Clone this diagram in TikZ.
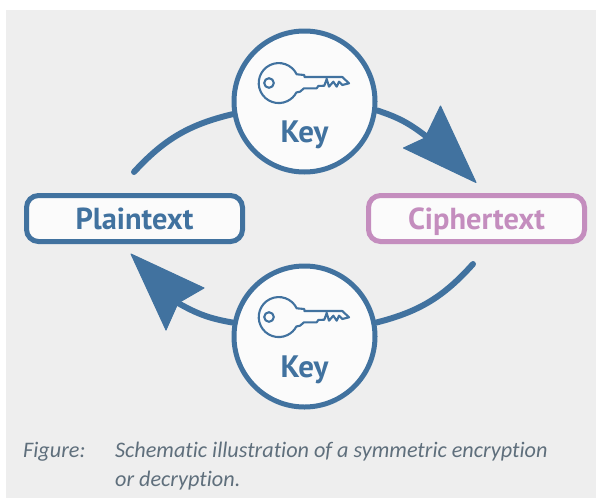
\documentclass[tikz,border=0pt]{standalone}
\usepackage{fontspec}
\setmainfont{PT Sans}
\newfontfamily\capfont[Ligatures=NoCommon]{Carlito}
\definecolor{bluec}{HTML}{41729F}
\definecolor{pinkc}{HTML}{C48DBE}
\definecolor{bgc}{HTML}{EEEEEE}
\definecolor{fillc}{HTML}{FBFBFB}
\definecolor{capc}{HTML}{5F6F7C}
\pgfdeclarelayer{under}
\pgfsetlayers{under,main}
\tikzset{
 conn/.style={draw=bluec,line width=6pt,line cap=round},
 head/.style={fill=bluec,draw=bluec,line width=1pt,line join=round},
 keycircle/.style={circle,draw=bluec,fill=fillc,line width=5pt,minimum size=141pt,inner sep=0pt},
 termbox/.style={rounded corners=12pt,fill=fillc,line width=5pt,minimum width=216pt,minimum height=46pt,inner sep=0pt,text depth=0pt,font=\bfseries\fontsize{30.4}{30}\selectfont},
 keylabel/.style={font=\bfseries\fontsize{31}{31}\selectfont,text=bluec,inner sep=0pt,anchor=base},
 caption/.style={font=\capfont\itshape\fontsize{22.2}{22}\selectfont,text=capc,anchor=base west,inner sep=0pt},
 keyline/.style={draw=bluec,line width=2.1pt,line join=round}
}
\newcommand{\keyglyph}[2]{%
 \begin{scope}[shift={(#1,#2)}]
  \draw[keyline] (17.7,-8.7) arc[start angle=-26,end angle=-332,radius=20]
   -- (21,8.7) -- (25,5.3) -- (37.7,5.3) -- (39.3,3) -- (45.3,2.7) -- (47.7,-4) -- (50,3.7) -- (54.3,-1.3) -- (57.7,3.7) -- (60,-1.3) -- (63.3,2) -- (70,0.3) -- (63.3,-6) -- (25.3,-6) -- (25.3,-8) -- cycle;
  \draw[keyline] (-10,0) circle[radius=4.8];
 \end{scope}}
\begin{document}
\begin{tikzpicture}[x=1pt,y=-1pt]
\useasboundingbox (0,0) rectangle (596,498);
\node[termbox,draw=bluec,text=bluec] (plain) at (134.5,218.5) {Plaintext};
\node[termbox,draw=pinkc,text=pinkc] (cipher) at (476.5,218.5) {Ciphertext};
\coordinate (a1) at (134,172);
\coordinate (a2) at (473,264);
\coordinate (h1) at (427,137);
\coordinate (h2) at (178,303);
\node[keycircle] (ktop) at (304.5,101.5) {};
\node[keycircle] (kbot) at (304.5,336.5) {};
\begin{pgfonlayer}{under}
\fill[bgc] (6,10) rectangle (596,498);
\draw[conn] (a1) to[bend left=17] (ktop.190);
\draw[conn] (ktop.-7) to[bend left=10] (h1);
\draw[conn] (a2) to[bend left=17] (kbot.11);
\draw[conn] (kbot.169) to[bend left=10] (h2);
\path[head] (476,182.5) -- (440.5,106) -- (425,138) -- (403.5,148) -- cycle;
\path[head] (131,254) -- (204,288) -- (178,303) -- (166,330) -- cycle;
\end{pgfonlayer}
\keyglyph{279}{83}
\keyglyph{279}{317}
\node[keylabel] (l1) at (304.5,142) {Key};
\node[keylabel] (l2) at (304.5,377) {Key};
\node[caption] (c1) at (23,457) {Figure:};
\node[caption] (c2) at (115,457) {Schematic illustration of a symmetric encryption};
\node[caption] (c3) at (115,486) {or decryption.};
\end{tikzpicture}
\end{document}
